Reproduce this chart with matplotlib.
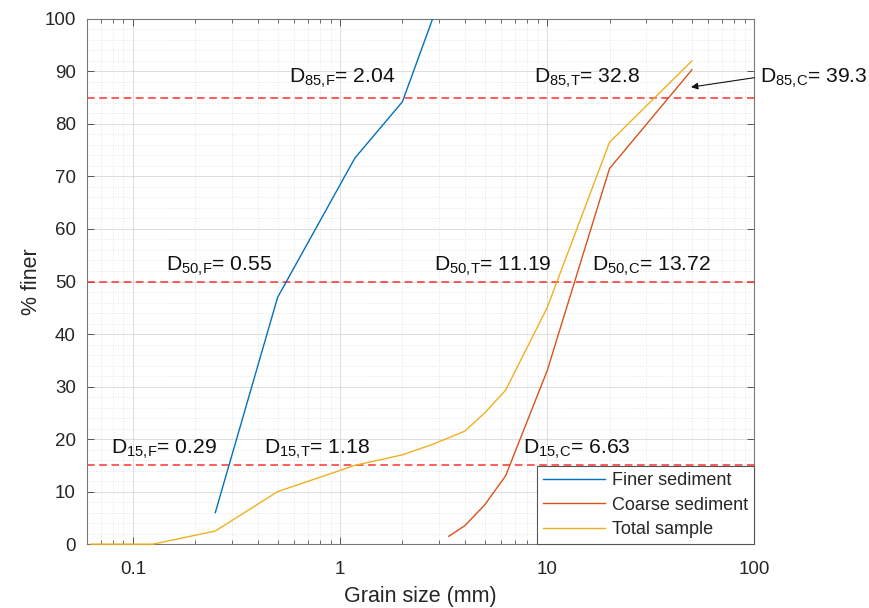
import matplotlib.pyplot as plt
from matplotlib.ticker import LogLocator, MultipleLocator, FixedLocator, NullFormatter

plt.rcParams['font.family'] = ['Liberation Sans', 'DejaVu Sans']
plt.rcParams['mathtext.fontset'] = 'custom'
plt.rcParams['mathtext.rm'] = 'Liberation Sans'
plt.rcParams['mathtext.it'] = 'Liberation Sans'
plt.rcParams['mathtext.default'] = 'regular'

# Data (grain size in mm, % finer)
finer_d = [0.25, 0.5, 1.18, 2.0, 2.8]
finer_p = [6, 47, 73.5, 84.2, 100]

coarse_d = [3.35, 4.0, 5.0, 6.3, 10, 20, 50]
coarse_p = [1.5, 3.5, 7.5, 13, 33, 71.5, 90.3]

total_d = [0.063, 0.075, 0.125, 0.25, 0.5, 1.18, 2.0, 2.8, 4.0, 5.0, 6.3, 10, 20, 50]
total_p = [0, 0, 0, 2.5, 10, 15, 17, 19, 21.5, 25, 29.3, 45, 76.5, 92]

levels = [15, 50, 85]

# annotation labels: (text, x, y)
labels = [
    ("D$_{85{,}F}$= 2.04", 0.57, 87.8),
    ("D$_{50{,}F}$= 0.55", 0.144, 52.0),
    ("D$_{15{,}F}$= 0.29", 0.078, 17.2),
    ("D$_{15{,}T}$= 1.18", 0.43, 17.2),
    ("D$_{15{,}C}$= 6.63", 7.65, 17.2),
    ("D$_{50{,}T}$= 11.19", 2.85, 52.0),
    ("D$_{50{,}C}$= 13.72", 16.5, 52.0),
    ("D$_{85{,}T}$= 32.8", 8.65, 87.8),
]

fig = plt.figure(figsize=(8.69, 6.08), dpi=100)
ax = fig.add_axes([0.100, 0.105, 0.768, 0.864])

for lv in levels:
    ax.axhline(lv, color='#ff3030', ls=(0, (5, 3)), lw=1.1, zorder=2)

ax.plot(finer_d, finer_p, color='#0072BD', lw=1.0, label='Finer sediment', zorder=3)
ax.plot(coarse_d, coarse_p, color='#D95319', lw=1.0, label='Coarse sediment', zorder=3)
ax.plot(total_d, total_p, color='#EDB120', lw=1.0, label='Total sample', zorder=3,
        clip_on=False)

for txt, x, y in labels:
    ax.text(x, y, txt, fontsize=15.2, color='#111111', va='baseline', ha='left')

ax.text(107, 87.8, "D$_{85{,}C}$= 39.3", fontsize=15.2, color='#111111',
        va='baseline', ha='left', clip_on=False)
ax.annotate("", xy=(49.5, 87.0), xytext=(100, 88.8), annotation_clip=False,
            arrowprops=dict(arrowstyle='-|>', color='#111111', lw=0.8,
                            shrinkA=0, shrinkB=0, mutation_scale=10))

ax.set_xscale('log')
ax.set_xlim(0.06, 100)
ax.set_ylim(0, 100)
ax.xaxis.set_major_locator(FixedLocator([0.1, 1, 10, 100]))
ax.set_xticklabels(['0.1', '1', '10', '100'])
ax.xaxis.set_minor_locator(LogLocator(base=10, subs=range(2, 10)))
ax.xaxis.set_minor_formatter(NullFormatter())
ax.yaxis.set_major_locator(MultipleLocator(10))
ax.yaxis.set_minor_locator(MultipleLocator(2))

ax.grid(which='major', color='#d8d8d8', lw=0.6, ls='-')
ax.grid(which='minor', color='#e4e4e4', lw=0.5, ls=(0, (2, 2)))
ax.set_axisbelow(True)

ax.tick_params(which='both', direction='in', top=True, right=True,
               colors='#555555', labelcolor='#262626', labelsize=13.5)
ax.tick_params(which='major', length=5, width=0.7)
ax.tick_params(axis='x', which='major', pad=12)
ax.tick_params(axis='y', which='major', pad=8)
ax.tick_params(axis='x', which='minor', length=3, width=0.6)
ax.tick_params(axis='y', which='minor', length=0)
for s in ax.spines.values():
    s.set_color('#777777')
    s.set_linewidth(0.8)

ax.set_xlabel('Grain size (mm)', fontsize=15.5, color='#262626', labelpad=6)
ax.set_ylabel('% finer', fontsize=15.5, color='#262626', labelpad=2)

leg = ax.legend(loc='lower right', fontsize=13, frameon=True, fancybox=False,
                framealpha=1, edgecolor='#555555', borderaxespad=0,
                handlelength=3.4, handletextpad=0.4, labelspacing=0.4,
                borderpad=0.35)
leg.get_frame().set_linewidth(0.8)
for t in leg.get_texts():
    t.set_color('#262626')

fig.savefig('out.png', dpi=100)
